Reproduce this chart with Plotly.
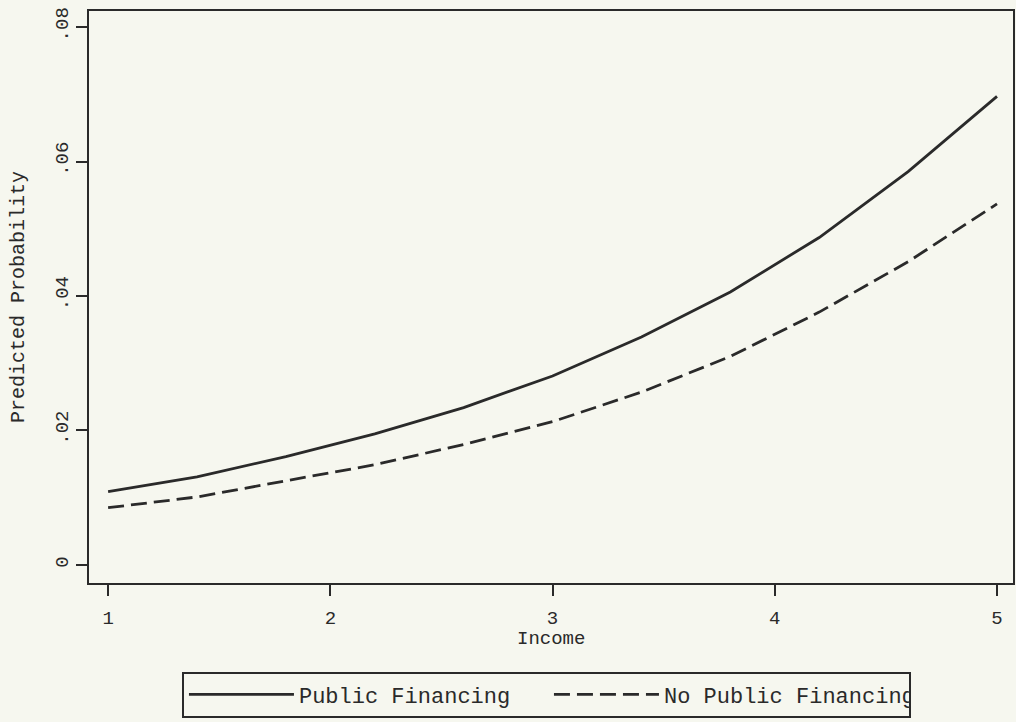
import plotly.graph_objects as go

income = [1.0, 1.4, 1.8, 2.2, 2.6, 3.0, 3.4, 3.8, 4.2, 4.6, 5.0]
public_fin = [0.0109, 0.0131, 0.0161, 0.0195, 0.0234, 0.0281, 0.0339, 0.0406, 0.0487, 0.0585, 0.0697]
no_public_fin = [0.0085, 0.0101, 0.0125, 0.0149, 0.0179, 0.0213, 0.0257, 0.0310, 0.0376, 0.0451, 0.0537]

x_ticks = [1, 2, 3, 4, 5]
x_ticklabels = ["1", "2", "3", "4", "5"]
y_ticks = [0, 0.02, 0.04, 0.06, 0.08]
y_ticklabels = ["0", ".02", ".04", ".06", ".08"]
x_title = "Income"
y_title = "Predicted Probability"

FONT = "Courier New, Courier, Nimbus Mono PS, Liberation Mono, monospace"
INK = "#2a2a2a"
BG = "#f6f7ef"

fig = go.Figure()
fig.add_trace(go.Scatter(x=income, y=public_fin, mode="lines", name="Public Financing",
                         line=dict(color=INK, width=2.8), legendwidth=245))
fig.add_trace(go.Scatter(x=income, y=no_public_fin, mode="lines", name="No Public Financing",
                         line=dict(color=INK, width=2.8, dash="16px,7px"), legendwidth=240))

fig.update_layout(
    width=1016, height=722,
    paper_bgcolor=BG, plot_bgcolor=BG,
    margin=dict(l=89, r=3, t=11, b=139),
    font=dict(family=FONT, size=20, color=INK),
    showlegend=True,
    legend=dict(
        orientation="h", x=0.1006, y=-0.155, xanchor="left", yanchor="top",
        bordercolor=INK, borderwidth=2, bgcolor=BG,
        itemwidth=105,
        font=dict(family=FONT, size=22, color=INK),
        itemclick=False,
    ),
    annotations=[dict(
        text=x_title, xref="paper", yref="paper", x=0.5, y=-(639 - 583) / 572,
        xanchor="center", yanchor="middle", showarrow=False,
        font=dict(family=FONT, size=19, color=INK),
    )],
)
fig.update_xaxes(
    range=[0.914, 5.072], tickvals=x_ticks, ticktext=x_ticklabels,
    showgrid=False, zeroline=False, showline=True, linecolor=INK, linewidth=2,
    mirror=True, ticks="outside", ticklen=11, tickwidth=2, tickcolor=INK,
    ticklabelstandoff=5, automargin=False,
    tickfont=dict(size=19),
)
fig.update_yaxes(
    range=[-0.0027, 0.0824], tickvals=y_ticks, ticktext=y_ticklabels,
    showgrid=False, zeroline=False, showline=True, linecolor=INK, linewidth=2,
    mirror=True, ticks="outside", ticklen=11, tickwidth=2, tickcolor=INK,
    tickangle=-90, automargin=False,
    title=dict(text=y_title, standoff=22, font=dict(size=20)),
    tickfont=dict(size=19),
)

fig.write_html(
    "out.html",
    config={"displayModeBar": False},
    post_script="document.body.style.margin='0';document.body.style.background='%s';" % BG,
)
